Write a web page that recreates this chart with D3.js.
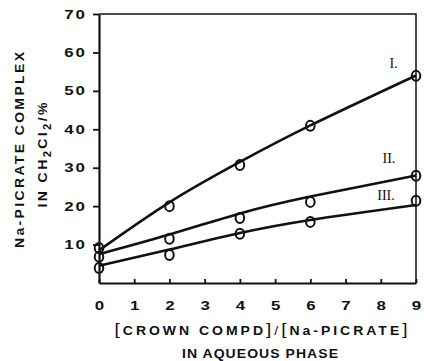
<!DOCTYPE html>
<html>
<head>
<meta charset="utf-8">
<script src="https://cdn.jsdelivr.net/npm/d3@7"></script>
<style>
  body { margin: 0; background: #fff; }
  svg { display: block; }
  text { font-family: "Liberation Sans", Arial, sans-serif; font-weight: bold; fill: #111; }
</style>
</head>
<body>
<div id="chart"></div>
<script>
// measured points (ratio vs % complex)
const ratios = [0, 2, 4, 6, 9];
const pointsI = [9.1, 20, 30.7, 40.9, 53.9];
const pointsII = [6.8, 11.5, 16.9, 21.1, 27.9];
const pointsIII = [3.9, 7.3, 12.8, 15.9, 21.4];

// smooth fitted curves
const curveI = [8.5, 21, 31.5, 41, 54];
const curveII = [7.5, 12.6, 18.1, 22.5, 28];
const curveIII = [4.5, 8.7, 13, 16.4, 20.3];

const seriesNames = ['I.', 'II.', 'III.'];
const xTicks = [0, 1, 2, 3, 4, 5, 6, 7, 8, 9];
const yTicks = [10, 20, 30, 40, 50, 60, 70];

const width = 424, height = 361;
// the original lettering is an extended grotesque
const digitStretch = 1.35;
const titleStretch = 1.12;

const svg = d3.select('#chart').append('svg')
  .attr('width', width)
  .attr('height', height);

const x = d3.scaleLinear().domain([0, 9]).range([99, 416]);
const y = d3.scaleLinear().domain([0, 70]).range([283, 14]);

// frame: top and right edges
svg.append('path')
  .attr('d', `M${x(0)},${y(70)}H${x(9)}V${y(0)}`)
  .attr('fill', 'none')
  .attr('stroke', '#111')
  .attr('stroke-width', 1.5);

// y axis
const yAxis = svg.append('g')
  .attr('transform', `translate(${x(0)},0)`)
  .call(d3.axisLeft(y).tickValues(yTicks).tickSize(6).tickPadding(6).tickSizeOuter(0));
yAxis.select('.domain').attr('stroke-width', 2.2).attr('stroke', '#111');
yAxis.selectAll('.tick line').attr('stroke-width', 1.8).attr('stroke', '#111');
yAxis.selectAll('.tick text')
  .attr('x', 0)
  .attr('transform', `translate(-12,0) scale(${digitStretch},1)`)
  .style('font-size', '12.5px')
  .style('letter-spacing', '1.5px')
  .attr('fill', '#111');

// x axis, ticks pointing inward
const xAxis = svg.append('g')
  .attr('transform', `translate(0,${y(0)})`)
  .call(d3.axisBottom(x).tickValues(xTicks).tickSizeInner(-4).tickSizeOuter(0).tickPadding(0));
xAxis.select('.domain').attr('stroke-width', 2.2).attr('stroke', '#111');
xAxis.selectAll('.tick line').attr('stroke-width', 1.8).attr('stroke', '#111');
xAxis.selectAll('.tick text')
  .attr('y', 27)
  .attr('dy', 0)
  .attr('transform', `scale(${digitStretch},1)`)
  .style('font-size', '12.5px')
  .attr('fill', '#111');

// curves
const line = d3.line()
  .x((d, i) => x(ratios[i]))
  .y(d => y(d))
  .curve(d3.curveNatural);

const curves = [curveI, curveII, curveIII];
const points = [pointsI, pointsII, pointsIII];

svg.append('g').selectAll('path')
  .data(curves)
  .join('path')
  .attr('d', line)
  .attr('fill', 'none')
  .attr('stroke', '#111')
  .attr('stroke-width', 2.6);

// open circle markers
points.forEach(vals => {
  svg.append('g').selectAll('ellipse')
    .data(vals)
    .join('ellipse')
    .attr('cx', (d, i) => x(ratios[i]))
    .attr('cy', d => y(d))
    .attr('rx', 4.3)
    .attr('ry', 5)
    .attr('fill', 'none')
    .attr('stroke', '#111')
    .attr('stroke-width', 2);
});

// series labels (serif, like the original)
const labelAt = [[8.25, 56], [8.05, 31.2], [7.9, 21.5]];
svg.append('g').selectAll('text')
  .data(seriesNames)
  .join('text')
  .attr('x', (d, i) => x(labelAt[i][0]))
  .attr('y', (d, i) => y(labelAt[i][1]))
  .style('font-family', '"Liberation Serif", "Times New Roman", serif')
  .style('font-weight', 'normal')
  .style('font-size', '14px')
  .text(d => d);

// helper: stretched, fixed-length text line
function label(tx, ty, rot, len, size) {
  return svg.append('text')
    .attr('transform', `translate(${tx},${ty}) rotate(${rot}) scale(${titleStretch},1)`)
    .attr('text-anchor', 'middle')
    .attr('textLength', len / titleStretch)
    .attr('lengthAdjust', 'spacing')
    .style('font-size', size + 'px');
}

// x title
const xt1 = label(261, 335, 0, 293, 12.5);
xt1.append('tspan').style('font-size', '17px').style('font-weight', 'normal').text('[');
xt1.append('tspan').text('CROWN  COMPD');
xt1.append('tspan').style('font-size', '17px').style('font-weight', 'normal').text(']');
xt1.append('tspan').style('font-weight', 'normal').text('/');
xt1.append('tspan').style('font-size', '17px').style('font-weight', 'normal').text('[');
xt1.append('tspan').text('Na-PICRATE');
xt1.append('tspan').style('font-size', '17px').style('font-weight', 'normal').text(']');

label(260, 358, 0, 156, 12.5).text('IN AQUEOUS  PHASE');

// y title
label(24, 150, -90, 196, 12.5).text('Na-PICRATE  COMPLEX');

const yt2 = label(47, 155, -90, 105, 12.5);
yt2.append('tspan').text('IN CH');
yt2.append('tspan').attr('dy', 4).style('font-size', '10px').text('2');
yt2.append('tspan').attr('dy', -4).text('Cl');
yt2.append('tspan').attr('dy', 4).style('font-size', '10px').text('2');
yt2.append('tspan').attr('dy', -4).text('/%');
</script>
</body>
</html>
